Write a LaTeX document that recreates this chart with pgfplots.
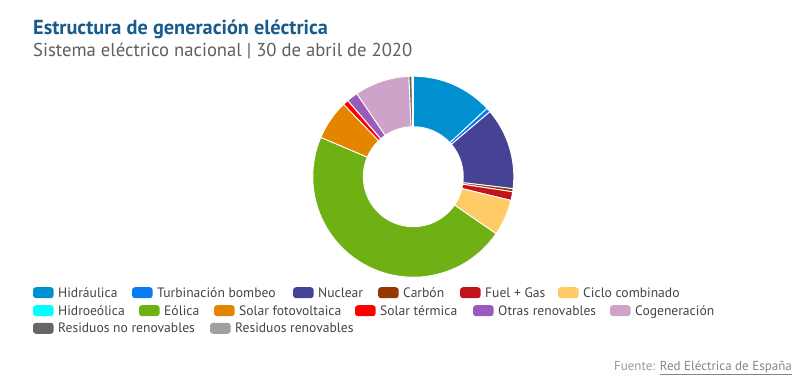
\documentclass[border=0pt]{standalone}
\usepackage{pgfplots}
\usepackage{pgfplotstable}
\pgfplotsset{compat=1.18}
\usepackage{fontspec}
\setmainfont{PT Sans}

\definecolor{chidr}{HTML}{0090D0}
\definecolor{cturb}{HTML}{0A7BF2}
\definecolor{cnucl}{HTML}{464394}
\definecolor{ccarb}{HTML}{963800}
\definecolor{cfuel}{HTML}{C0131A}
\definecolor{cciclo}{HTML}{FFCB67}
\definecolor{chidroe}{HTML}{00FFFF}
\definecolor{ceol}{HTML}{6FB114}
\definecolor{csfv}{HTML}{E48500}
\definecolor{cster}{HTML}{FF0000}
\definecolor{cotras}{HTML}{9A5CBC}
\definecolor{ccog}{HTML}{CFA2CA}
\definecolor{cresnr}{HTML}{666666}
\definecolor{cresr}{HTML}{A0A0A0}
\definecolor{titleblue}{HTML}{175C8D}
\definecolor{subgray}{HTML}{5F5F5F}
\definecolor{legtext}{HTML}{444444}
\definecolor{srcgray}{HTML}{9A9A9A}
\definecolor{linkgray}{HTML}{858585}

% share of generation (%), clockwise from 12 o'clock
\pgfplotstableread{
value color
13.1  chidr
0.7   cturb
13.1  cnucl
0.5   ccarb
1.4   cfuel
5.8   cciclo
0.0   chidroe
46.8  ceol
6.4   csfv
0.9   cster
1.8   cotras
8.8   ccog
0.5   cresnr
0.2   cresr
}\gendata

\newcommand{\legitem}[4]{%
  \fill[#3, rounded corners=3bp] (#1,#2-5.5) rectangle ++(20.7,11);
  \node[anchor=base west, inner sep=0pt, text=legtext, font=\fontsize{13.6bp}{15bp}\selectfont] at (#1+25,#2-4.5) {#4};
}

\begin{document}
\begin{tikzpicture}[x=1bp,y=1bp]
\path[use as bounding box, fill=white] (0,0) rectangle (808,390);

\node[anchor=base west, inner sep=0pt, text=titleblue, font=\fontsize{20.3bp}{22bp}\selectfont\bfseries] at (33,356) {Estructura de generación eléctrica};
\node[anchor=base west, inner sep=0pt, text=subgray, font=\fontsize{18.65bp}{22bp}\selectfont] at (33,334) {Sistema eléctrico nacional | 30 de abril de 2020};

\begin{axis}[
  at={(413.3,213.3)}, anchor=origin,
  x=1bp, y=1bp,
  xmin=-110, xmax=110, ymin=-110, ymax=110,
  axis lines=none, clip=false,
]
\pgfplotstablegetrowsof{\gendata}
\pgfmathtruncatemacro\nlast{\pgfplotsretval-1}
\gdef\cum{0}
\pgfplotsforeachungrouped \i in {0,...,\nlast}{%
  \pgfplotstablegetelem{\i}{value}\of\gendata \let\v=\pgfplotsretval
  \pgfplotstablegetelem{\i}{color}\of\gendata \let\c=\pgfplotsretval
  \pgfmathsetmacro\aone{90-3.6*\cum}%
  \pgfmathsetmacro\newcum{\cum+\v}%
  \xdef\cum{\newcum}%
  \pgfmathsetmacro\atwo{90-3.6*\cum}%
  \ifdim\v pt>0pt
  \edef\temp{\noexpand\fill[\c, draw=white, line width=0.9bp] ([shift={(\aone:100.5bp)}]axis cs:0,0) arc[start angle=\aone, end angle=\atwo, radius=100.5bp] -- ([shift={(\atwo:50bp)}]axis cs:0,0) arc[start angle=\atwo, end angle=\aone, radius=50bp] -- cycle;}%
  \temp
  \fi
}
\end{axis}

% legend
\legitem{33}{97.3}{chidr}{Hidráulica}
\legitem{132}{97.3}{cturb}{Turbinación bombeo}
\legitem{293}{97.3}{cnucl}{Nuclear}
\legitem{378}{97.3}{ccarb}{Carbón}
\legitem{460}{97.3}{cfuel}{Fuel + Gas}
\legitem{558}{97.3}{cciclo}{Ciclo combinado}
\legitem{33}{79.3}{chidroe}{Hidroeólica}
\legitem{139}{79.3}{ceol}{Eólica}
\legitem{214}{79.3}{csfv}{Solar fotovoltaica}
\legitem{355}{79.3}{cster}{Solar térmica}
\legitem{473}{79.3}{cotras}{Otras renovables}
\legitem{610}{79.3}{ccog}{Cogeneración}
\legitem{33}{61.7}{cresnr}{Residuos no renovables}
\legitem{210}{61.7}{cresr}{Residuos renovables}

\node[anchor=base east, inner sep=0pt, font=\fontsize{13bp}{15bp}\selectfont] at (792,20) {\textcolor{srcgray}{Fuente:} \textcolor{linkgray}{\underline{Red Eléctrica de España}}};
\end{tikzpicture}
\end{document}
